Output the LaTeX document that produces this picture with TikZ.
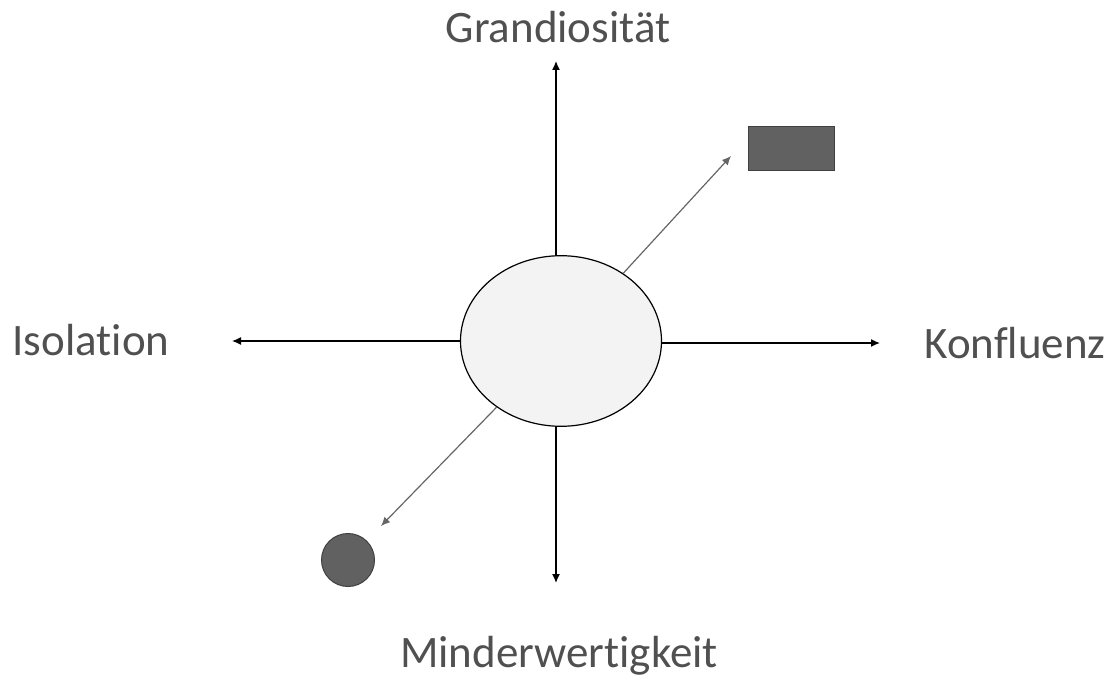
\documentclass[tikz,border=0pt]{standalone}
\usepackage{fontspec}
\setmainfont[Ligatures=NoCommon]{Carlito}
\usetikzlibrary{arrows.meta, shapes.geometric}
\definecolor{textgray}{HTML}{505050}
\definecolor{hubfill}{HTML}{F3F3F3}
\definecolor{markfill}{HTML}{616161}
\tikzset{
    hub/.style={draw, ellipse, fill=hubfill, line width=0.6pt, minimum width=100.5pt, minimum height=85.3pt, inner sep=0pt},
    markbox/.style={draw=black!75, fill=markfill, line width=0.5pt, minimum width=43pt, minimum height=22pt, inner sep=0pt},
    markdot/.style={draw=black!75, fill=markfill, circle, line width=0.5pt, minimum size=26.5pt, inner sep=0pt},
    polelabel/.style={anchor=base, inner sep=0pt, text=textgray, font=\fontsize{22.5}{27}\selectfont},
    axis/.style={->, line width=0.7pt},
    drift/.style={->, line width=0.6pt, draw=black!60}
}

\begin{document}
\begin{tikzpicture}[x=0.5pt, y=-0.5pt, >={Latex[length=4.5pt, width=4pt]}]
  \useasboundingbox (0,0) rectangle (1113,679);
  \node(core)[hub] at (561,341){};
  \node(grand)[polelabel] at (558,43){Grandiosität};
  \node(iso)[polelabel] at (91,355){Isolation};
  \node(konf)[polelabel] at (1015,358){Konfluenz};
  \node(minder)[polelabel] at (559,667){Minderwertigkeit};
  \node(box)[markbox] at (791,149){};
  \node(dot)[markdot] at (348,560){};
  \coordinate(up) at (556,61);
  \coordinate(down) at (556,583);
  \coordinate(left) at (232,341);
  \coordinate(right) at (880,343);
  \coordinate(ne) at (731,156);
  \coordinate(sw) at (381,526);
  \draw[axis](core.north -| up)--(up);
  \draw[axis](core.south -| down)--(down);
  \draw[axis](core.west)--(left);
  \draw[axis](core.east |- right)--(right);
  \draw[drift](core)--(ne);
  \draw[drift](core)--(sw);
\end{tikzpicture}
\end{document}
